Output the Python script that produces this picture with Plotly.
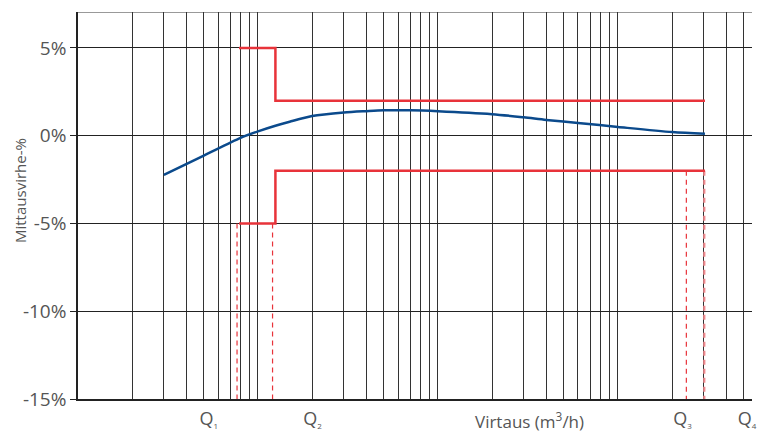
import math
import plotly.graph_objects as go

# ---- data ----
flow = [3, 5, 8, 10, 12.5, 15, 20, 30, 40, 50, 70, 100, 200, 300, 400, 600, 1000, 2000, 3045]
error = [-2.23, -1.13, -0.12, 0.25, 0.57, 0.8, 1.12, 1.32, 1.4, 1.45, 1.45, 1.4, 1.23, 1.05, 0.9, 0.73, 0.5, 0.21, 0.11]

limit_x = [7.85, 12.5, 12.5, 3045]
upper_limit = [5, 5, 2, 2]
lower_limit = [-5, -5, -2, -2]

q_dash_x = [7.65, 12.05, 2400, 3020]
q_dash_top = [-5, -5, -2, -2]
q_dash_width = [1.2, 1.2, 1.2, 2.2]
q_dash_color = ["#e8333a", "#e8333a", "#e8333a", "#f08a8e"]

q_label_x = [5.33, 20.1, 2284, 5210]
q_label_sub = ["1", "2", "3", "4"]

grid_x = [m * 10 ** d for d in range(4) for m in range(1, 10) if m * 10 ** d <= 5000]

y_ticks = [-15, -10, -5, 0, 5]
y_ticktext = ["-15%", "-10%", "-5%", "0%", "5%"]

x_title = "Virtaus (m<sup>3</sup>/h)"
x_title_pos = 324
y_title = "Mittausvirhe-%"
y_title_pos = -3.15

RED = "#e8333a"
BLUE = "#0b4a8c"
TXT = "#555555"
FONT = "Open Sans"

q_label_text = ["Q<sub><span style='font-size:8px'>%s</span></sub>" % s for s in q_label_sub]

fig = go.Figure()

for xv, top, w, c in zip(q_dash_x, q_dash_top, q_dash_width, q_dash_color):
    fig.add_trace(go.Scatter(x=[xv, xv], y=[top, -15], mode="lines",
                             line=dict(color=c, width=w, dash="5px,4px"),
                             hoverinfo="skip", showlegend=False))

fig.add_trace(go.Scatter(x=limit_x, y=upper_limit, mode="lines",
                         line=dict(color=RED, width=2.5), showlegend=False))
fig.add_trace(go.Scatter(x=limit_x, y=lower_limit, mode="lines",
                         line=dict(color=RED, width=2.5), showlegend=False))
fig.add_trace(go.Scatter(x=flow, y=error, mode="lines",
                         line=dict(color=BLUE, width=2.5, shape="spline", smoothing=0.8),
                         showlegend=False))

# top frame line
fig.add_shape(type="line", xref="paper", yref="y", x0=0, x1=1, y0=7.05, y1=7.05,
              line=dict(color="#777777", width=1.5), layer="below")

fig.add_annotation(x=math.log10(x_title_pos), y=0, xref="x", yref="paper", text=x_title,
                   showarrow=False, yanchor="top", yshift=-7,
                   font=dict(family=FONT, size=17, color=TXT))
fig.add_annotation(x=0, y=y_title_pos, xref="paper", yref="y", text=y_title,
                   showarrow=False, textangle=-90, xanchor="center", xshift=-58,
                   font=dict(family=FONT, size=15, color=TXT))

fig.update_layout(
    width=767, height=433,
    margin=dict(l=78, r=15, t=12, b=34),
    paper_bgcolor="white", plot_bgcolor="white",
    font=dict(family=FONT, color=TXT),
    xaxis=dict(
        type="log", range=[0, 3.745], automargin=False,
        tickmode="array", tickvals=q_label_x, ticktext=q_label_text,
        showgrid=False, ticks="", showline=True, linecolor="#222222", linewidth=1.5,
        tickfont=dict(family=FONT, size=18, color=TXT), ticklabelstandoff=3,
        minor=dict(tickmode="array", tickvals=grid_x, showgrid=True,
                   gridcolor="#333333", gridwidth=1, ticks=""),
        zeroline=False,
    ),
    yaxis=dict(
        range=[-15, 7.05], tickmode="array", tickvals=y_ticks, ticktext=y_ticktext,
        automargin=False,
        showgrid=True, gridcolor="#222222", gridwidth=1,
        showline=True, linecolor="#222222", linewidth=1.5,
        ticks="outside", ticklen=6, tickcolor="#222222",
        tickfont=dict(family=FONT, size=19, color=TXT),
        zeroline=False,
    ),
)

fig.write_html("out.html")
